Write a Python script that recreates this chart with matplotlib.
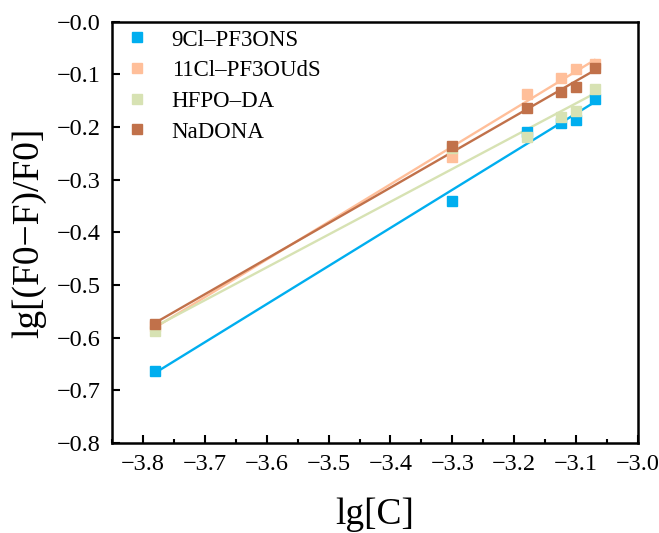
import numpy as np
import matplotlib
matplotlib.use("Agg")
import matplotlib.pyplot as plt
from matplotlib.ticker import MultipleLocator, FuncFormatter

plt.rcParams['font.family'] = ['Liberation Serif', 'DejaVu Serif']
plt.rcParams['axes.unicode_minus'] = True

lgC = [-3.78, -3.30, -3.18, -3.125, -3.10, -3.07]
series_names = ["9Cl\u2013PF3ONS", "11Cl\u2013PF3OUdS", "HFPO\u2013DA", "NaDONA"]
y_9cl = [-0.663, -0.340, -0.209, -0.192, -0.186, -0.147]
y_11cl = [-0.577, -0.256, -0.137, -0.107, -0.090, -0.080]
y_hfpo = [-0.588, -0.240, -0.219, -0.180, -0.169, -0.128]
y_nadona = [-0.575, -0.236, -0.163, -0.134, -0.123, -0.088]
colors = ["#00AEEF", "#FFBF9A", "#D7E2B3", "#C1714A"]

fig = plt.figure(figsize=(6.59, 5.33), dpi=100)
ax = fig.add_axes([0.170, 0.169, 0.798, 0.790])

x = np.array(lgC)
xs = np.array([min(lgC), max(lgC)])
for name, ys, c in zip(series_names, [y_9cl, y_11cl, y_hfpo, y_nadona], colors):
    ax.plot(x, ys, 's', color=c, markersize=7, label=name, zorder=3)
for name, ys, c in zip(series_names, [y_9cl, y_11cl, y_hfpo, y_nadona], colors):
    k, b = np.polyfit(x, ys, 1)
    ax.plot(xs, k * xs + b, '-', color=c, lw=1.7, zorder=2)

ax.set_xlim(-3.85, -3.0)
ax.set_ylim(-0.8, 0.0)
ax.xaxis.set_major_locator(MultipleLocator(0.1))
ax.xaxis.set_minor_locator(MultipleLocator(0.05))
ax.yaxis.set_major_locator(MultipleLocator(0.1))
ax.xaxis.set_major_formatter(FuncFormatter(lambda v, p: ("%.1f" % v).replace('-', '\u2212')))
ax.yaxis.set_major_formatter(FuncFormatter(lambda v, p: ("%.1f" % (v if abs(v) > 1e-9 else -0.0)).replace('-', '\u2212')))

ax.tick_params(axis='both', which='major', direction='in', length=5.5, width=1.5, labelsize=17.5, pad=8)
ax.tick_params(axis='x', which='minor', direction='in', length=2.8, width=1.5)
for s in ax.spines.values():
    s.set_linewidth(1.8)

ax.set_xlabel("lg[C]", fontsize=27, labelpad=16)
ax.set_ylabel("lg[(F0\u2212F)/F0]", fontsize=27, labelpad=8)

leg = ax.legend(loc='upper left', frameon=False, fontsize=16.5, handletextpad=1.1,
                handlelength=0.8, bbox_to_anchor=(0.0, 1.02), borderaxespad=0.3,
                borderpad=0.4, labelspacing=0.42, markerscale=1.0)

fig.savefig("out.png", dpi=100)
